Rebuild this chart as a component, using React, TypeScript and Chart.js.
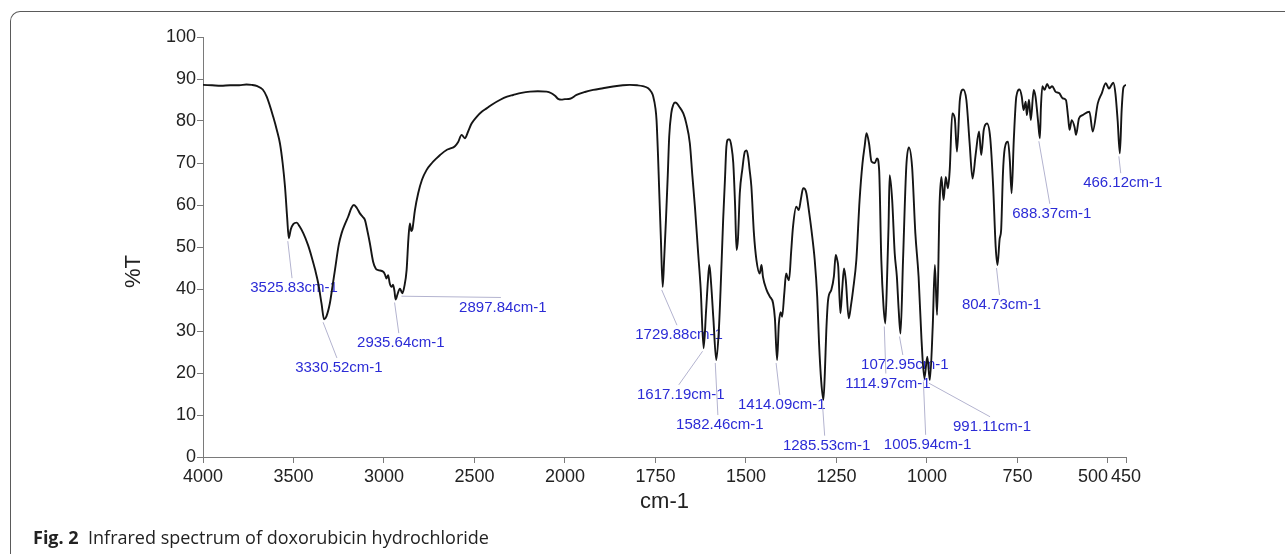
import React, { useEffect, useRef } from "react";
import { Chart, registerables } from "chart.js";

Chart.register(...registerables);

// ---- data (wavenumber in cm-1, %T) ----
const wavenumbers = [
  4000, 3950, 3900, 3850, 3800, 3760, 3730, 3700, 3670, 3648, 3612, 3590, 3575, 3560, 3547, 3535, 3526,
  3515, 3500, 3483, 3465, 3446, 3420, 3400, 3380, 3363, 3345, 3331, 3318, 3299, 3285, 3271, 3250, 3234,
  3215, 3198, 3180, 3166, 3150, 3133, 3118, 3105, 3090, 3078, 3060, 3045, 3032, 3004, 2995, 2986, 2977,
  2968, 2958, 2950, 2942, 2936, 2925, 2912, 2903, 2898, 2888, 2875, 2865, 2857, 2849, 2843, 2829, 2811,
  2790, 2765, 2735, 2710, 2690, 2654, 2636, 2608, 2590, 2571, 2553, 2535, 2516, 2488, 2460, 2433, 2400,
  2360, 2320, 2286, 2240, 2193, 2150, 2101, 2075, 2055, 2035, 2020, 2000, 1986, 1968, 1945, 1922, 1895,
  1867, 1840, 1821, 1800, 1785, 1770, 1762, 1756, 1750, 1747, 1743, 1740, 1735, 1730, 1726, 1721, 1716,
  1712, 1706, 1701, 1696, 1692, 1685, 1673, 1665, 1655, 1648, 1641, 1632, 1625, 1617, 1610, 1605, 1601,
  1596, 1590, 1582, 1575, 1570, 1563, 1558, 1554, 1549, 1545, 1540, 1535, 1530, 1526, 1522, 1517, 1510,
  1503, 1498, 1494, 1490, 1485, 1478, 1471, 1462, 1457, 1453, 1443, 1434, 1425, 1420, 1414, 1409, 1404,
  1400, 1394, 1389, 1384, 1381, 1375, 1370, 1361, 1354, 1348, 1342, 1337, 1333, 1325, 1319, 1310, 1303,
  1298, 1292, 1286, 1282, 1278, 1273, 1264, 1257, 1252, 1248, 1245, 1239, 1234, 1229, 1224, 1216, 1210,
  1204, 1195, 1186, 1178, 1172, 1167, 1160, 1153, 1144, 1138, 1132, 1126, 1120, 1115, 1110, 1106, 1103,
  1096, 1089, 1083, 1078, 1073, 1066, 1057, 1050, 1041, 1032, 1023, 1015, 1007, 999, 992, 984, 978,
  972, 965, 960, 954, 948, 942, 937, 930, 923, 917, 909, 900, 891, 882, 874, 865, 856, 850, 843, 834,
  825, 817, 810, 805, 799, 795, 790, 785, 776, 771, 766, 760, 753, 744, 738, 733, 727, 724, 718, 713,
  705, 700, 693, 688, 685, 681, 675, 668, 661, 654, 645, 634, 625, 616, 610, 606, 600, 592, 588, 580,
  570, 551, 542, 528, 517, 506, 497, 490, 485, 479, 473, 467, 462, 457, 450,
];
const transmittance = [
  88.6, 88.5, 88.4, 88.5, 88.5, 88.7, 88.6, 88.3, 87.5, 85.8, 81.0, 77.5, 74.7, 70.0, 64.4, 57.0, 52.1,
  54.2, 55.5, 55.8, 54.8, 53.3, 50.5, 47.7, 44.5, 41.3, 36.5, 32.8, 33.5, 36.6, 40.5, 44.5, 50.5, 53.3,
  55.5, 57.2, 59.3, 60.0, 59.3, 58.0, 57.2, 56.4, 53.5, 50.9, 46.5, 44.8, 44.5, 44.1, 43.5, 42.5, 43.3,
  41.3, 40.5, 41.0, 39.5, 37.5, 38.8, 40.1, 39.3, 39.0, 40.5, 44.5, 52.0, 55.6, 53.8, 54.2, 58.8, 62.8,
  66.0, 68.3, 70.0, 71.1, 71.9, 73.1, 73.4, 74.0, 75.0, 76.7, 75.9, 77.5, 79.4, 81.0, 82.2, 83.0, 84.0,
  85.0, 85.8, 86.2, 86.7, 87.0, 87.1, 87.0, 86.6, 86.0, 85.2, 85.1, 85.2, 85.3, 86.2, 86.9, 87.4, 87.8,
  88.2, 88.5, 88.6, 88.5, 88.3, 87.8, 87.0, 85.8, 83.0, 80.2, 72.0, 64.4, 52.0, 40.5, 47.0, 56.4, 67.0,
  76.3, 82.0, 83.8, 84.4, 84.3, 83.5, 81.8, 79.5, 74.7, 67.0, 59.6, 48.5, 40.0, 25.9, 35.0, 42.0, 45.7,
  41.0, 33.0, 23.1, 30.0, 40.0, 56.4, 66.0, 73.9, 75.6, 75.6, 73.9, 70.0, 60.0, 49.3, 52.0, 62.8, 68.5,
  72.7, 73.0, 71.5, 68.5, 64.4, 53.3, 46.9, 43.7, 45.7, 42.9, 39.8, 38.2, 36.6, 33.0, 23.1, 31.8, 34.5,
  33.4, 39.0, 43.7, 42.5, 42.1, 49.0, 54.8, 59.6, 58.8, 61.5, 64.0, 63.8, 62.8, 58.0, 54.0, 46.9, 38.0,
  27.1, 18.0, 13.6, 20.0, 30.0, 37.4, 39.8, 43.0, 48.1, 47.0, 45.3, 34.2, 40.0, 44.9, 42.0, 33.0, 36.0,
  39.8, 46.9, 61.2, 69.9, 74.0, 77.1, 74.7, 70.3, 70.0, 71.1, 68.3, 46.9, 36.0, 31.8, 42.9, 55.0, 67.1,
  61.2, 48.5, 42.9, 35.0, 29.4, 46.9, 69.1, 73.7, 69.1, 53.3, 42.9, 28.0, 18.7, 23.9, 18.3, 31.0, 45.7,
  33.8, 60.4, 66.7, 61.2, 66.7, 64.0, 68.3, 81.8, 80.6, 72.7, 85.0, 87.5, 85.0, 74.7, 66.3, 72.3, 77.5, 71.9, 77.9, 79.4,
  75.9, 64.4, 50.0, 45.7, 52.0, 54.0, 67.5, 73.5, 75.1, 70.7, 62.8, 75.5, 85.8, 87.5, 85.8, 82.6, 84.6, 81.4, 85.1, 80.2,
  87.4, 85.8, 80.0, 75.9, 83.4, 88.3, 87.4, 88.8, 87.8, 88.3, 87.0, 86.6, 85.4, 85.0, 81.0, 77.9, 80.2, 78.5, 76.7, 80.6,
  81.4, 82.2, 77.5, 84.2, 86.6, 89.0, 87.7, 88.6, 89.1, 86.4, 80.0, 72.3, 82.6, 88.0, 88.6,
];

// x-axis ticks (cm-1) and their printed labels
const xTickValues = [4000, 3500, 3000, 2500, 2000, 1750, 1500, 1250, 1000, 750, 500, 450];
const xTickLabels = ["4000", "3500", "3000", "2500", "2000", "1750", "1500", "1250", "1000", "750", "500      ", "450"];

// peak annotations
const peakLabels = [
  "3525.83cm-1", "3330.52cm-1", "2935.64cm-1", "2897.84cm-1", "1729.88cm-1", "1617.19cm-1",
  "1582.46cm-1", "1414.09cm-1", "1285.53cm-1", "1072.95cm-1", "1114.97cm-1", "1005.94cm-1",
  "991.11cm-1", "804.73cm-1", "688.37cm-1", "466.12cm-1",
];
const peakWavenumbers = [3526, 3331, 2936, 2898, 1730, 1617, 1582, 1414, 1286, 1073, 1115, 1007, 992, 805, 688, 467];
const labelWavenumbers = [3497, 3249, 2907, 2343, 1685, 1680, 1572, 1401, 1277, 1061, 1108, 998, 820, 794, 655, 459];
const labelTransmittance = [40.2, 21.2, 27.1, 35.6, 29.0, 14.8, 7.6, 12.4, 2.7, 21.9, 17.5, 2.9, 7.2, 36.2, 57.9, 65.2];

// piecewise axis: 4000-2000 compressed 2x relative to 2000-450
function toAxis(w: number): number {
  return w >= 2000 ? (4000 - w) / 2 : 1000 + (2000 - w);
}

const FONT = '"Liberation Sans", Arial, sans-serif';

const peakAnnotations = {
  id: "peakAnnotations",
  beforeDatasetsDraw(chart: any) {
    const { ctx, scales } = chart;
    const x = scales.x;
    const y = scales.y;
    ctx.save();
    peakLabels.forEach((text, i) => {
      const pw = peakWavenumbers[i];
      let best = 0;
      for (let k = 1; k < wavenumbers.length; k++) {
        if (Math.abs(wavenumbers[k] - pw) < Math.abs(wavenumbers[best] - pw)) best = k;
      }
      const px = x.getPixelForValue(toAxis(wavenumbers[best]));
      const py = y.getPixelForValue(transmittance[best]);
      const lx = x.getPixelForValue(toAxis(labelWavenumbers[i]));
      const ly = y.getPixelForValue(labelTransmittance[i]);
      ctx.strokeStyle = "#b3b3cf";
      ctx.lineWidth = 1;
      ctx.beginPath();
      ctx.moveTo(px - 1, py + 3);
      ctx.lineTo(lx - 2, ly - 10);
      ctx.stroke();
      ctx.fillStyle = "#2b2bd6";
      ctx.font = `15px ${FONT}`;
      ctx.textAlign = "center";
      ctx.textBaseline = "middle";
      ctx.fillText(text, lx, ly);
    });
    ctx.restore();
  },
};

export default function App() {
  const canvasRef = useRef<HTMLCanvasElement | null>(null);

  useEffect(() => {
    if (!canvasRef.current) return;
    const chart = new Chart(canvasRef.current, {
      type: "line",
      data: {
        datasets: [
          {
            data: wavenumbers.map((w, i) => ({ x: toAxis(w), y: transmittance[i] })),
            borderColor: "#151515",
            borderWidth: 1.9,
            pointRadius: 0,
            fill: false,
            cubicInterpolationMode: "monotone",
          },
        ],
      },
      options: {
        animation: false,
        responsive: true,
        maintainAspectRatio: false,
        events: [],
        layout: { padding: { left: 110, right: 159, top: 37, bottom: 39 } },
        plugins: { legend: { display: false }, tooltip: { enabled: false } },
        scales: {
          x: {
            type: "linear",
            min: 0,
            max: toAxis(450),
            afterBuildTicks: (s: any) => {
              s.ticks = xTickValues.map((w) => ({ value: toAxis(w) }));
            },
            afterFit: (s: any) => {
              s.height = 58;
            },
            ticks: {
              autoSkip: false,
              maxRotation: 0,
              minRotation: 0,
              padding: 3,
              color: "#222",
              font: { size: 18, family: FONT },
              callback: (_v: any, i: number) => xTickLabels[i],
            },
            grid: { drawOnChartArea: false, drawTicks: true, tickLength: 6, color: "#7a7a7a" },
            border: { display: true, color: "#7a7a7a", width: 1 },
            title: {
              display: true,
              text: "cm-1",
              color: "#222",
              font: { size: 22, family: FONT },
              padding: { top: 0, bottom: 0 },
            },
          },
          y: {
            type: "linear",
            min: 0,
            max: 100,
            afterFit: (s: any) => {
              s.width = 93;
            },
            ticks: {
              stepSize: 10,
              padding: 1,
              color: "#222",
              font: { size: 18, family: FONT },
            },
            grid: { drawOnChartArea: false, drawTicks: true, tickLength: 6, color: "#7a7a7a" },
            border: { display: true, color: "#7a7a7a", width: 1 },
            title: {
              display: true,
              text: "%T        ",
              color: "#222",
              font: { size: 22, family: FONT },
              padding: { top: 11, bottom: 0 },
            },
          },
        },
      },
      plugins: [peakAnnotations],
    } as any);
    return () => chart.destroy();
  }, []);

  return (
    <div style={{ position: "absolute", left: 0, top: 0, width: 1285, height: 554, background: "#fff", overflow: "hidden" }}>
      <div
        style={{
          position: "absolute",
          left: 10,
          top: 11,
          width: 1285,
          height: 560,
          borderTop: "1.5px solid #5a5a5a",
          borderLeft: "1.5px solid #5a5a5a",
          borderTopLeftRadius: 10,
        }}
      />
      <div style={{ position: "absolute", left: 0, top: 0, width: 1285, height: 554 }}>
        <canvas ref={canvasRef} />
      </div>
      <div
        style={{
          position: "absolute",
          left: 33,
          top: 526,
          fontFamily: '"Open Sans", "Noto Sans", sans-serif',
          fontSize: 18,
          lineHeight: "22px",
          color: "#222",
          whiteSpace: "nowrap",
        }}
      >
        <b>Fig. 2</b>
        {"\u00a0\u00a0"}Infrared spectrum of doxorubicin hydrochloride
      </div>
    </div>
  );
}
